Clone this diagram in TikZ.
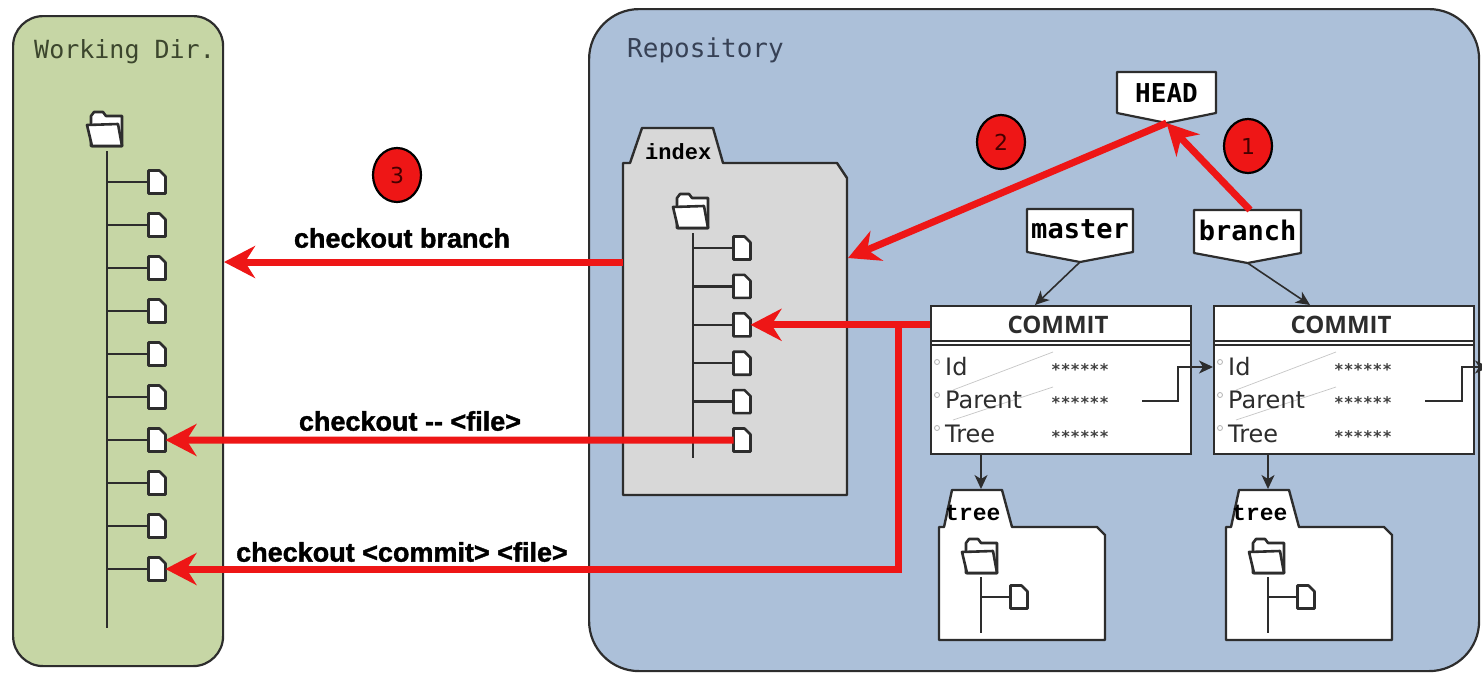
\documentclass[tikz,border=0pt]{standalone}
\usepackage{fontspec}
\setmainfont{DejaVu Sans}
\newfontfamily\monof{DejaVu Sans Mono}
\newfontfamily\courf{Liberation Mono}
\newfontfamily\labf{Liberation Sans}[BoldFeatures={FakeBold=1.4}]
\newfontfamily\commitf{Open Sans}
\usetikzlibrary{arrows.meta,shapes.geometric,calc}
\definecolor{wdgreen}{RGB}{198,214,165}
\definecolor{repoblue}{RGB}{172,192,217}
\definecolor{idxgray}{RGB}{216,216,216}
\definecolor{redc}{RGB}{238,22,22}
\definecolor{linec}{RGB}{45,45,45}
\definecolor{wdtext}{RGB}{60,70,45}
\definecolor{repotext}{RGB}{55,65,85}
\definecolor{numtext}{RGB}{70,0,0}
\tikzset{
  iconline/.style={draw=linec, line width=2.6pt, fill=white, line join=round},
  treeline/.style={draw=linec, line width=2.4pt},
  filenode/.style={minimum width=17pt, minimum height=23pt, inner sep=0pt, outer sep=0pt},
  foldnode/.style={minimum width=36pt, minimum height=34pt, inner sep=0pt, outer sep=0pt},
  redarr/.style={draw=redc, line width=7pt, -{Stealth[length=31pt,width=32pt,inset=10pt]}},
  thinarr/.style={draw=linec, line width=1.6pt, -{Stealth[length=14pt,width=13pt,inset=4pt]}},
  numc/.style={ellipse, draw=black, line width=2.2pt, fill=redc, minimum width=48pt, minimum height=54pt, inner sep=0pt, font=\fontsize{22}{22}\selectfont, text=numtext},
  lab/.style={font=\labf\bfseries\fontsize{27}{27}\selectfont, text=black, inner sep=0pt},
  flagtxt/.style={font=\monof\bfseries\fontsize{26}{26}\selectfont, text=black, inner sep=0pt},
  rowtxt/.style={font=\fontsize{24}{24}\selectfont, text=linec, inner sep=0pt, anchor=west},
  valtxt/.style={font=\monof\bfseries\fontsize{16}{16}\selectfont, text=linec!90, inner sep=0pt, anchor=west},
}
\newcommand\drawfile[1]{\draw[iconline] (#1.north west) -- ([xshift=-6pt]#1.north east) -- ([yshift=-6pt]#1.north east) -- (#1.south east) -- (#1.south west) -- cycle;}
\newcommand\drawfolder[1]{\begin{scope}[shift={(#1.north west)}]
  \draw[iconline] (4,34) -- (4,4) -- (7,0) -- (16,0) -- (19,4) -- (35,4) -- (35,34) -- cycle;
  \draw[iconline] (0,13) -- (31,12) -- (35,34) -- (5,34) -- cycle;
\end{scope}}
\newcommand\flagshape[4]{\draw[draw=linec, line width=2.2pt, fill=white, line join=round] (#1,#2) -- (#1+#3,#2) -- (#1+#3,#2+#4) -- (#1+#3/2,#2+#4+10) -- (#1,#2+#4) -- cycle;}
\begin{document}
\begin{tikzpicture}[x=1pt,y=-1pt]
\useasboundingbox (0,0) rectangle (1482,675);
\fill[white] (0,0) rectangle (1482,675);

% ---------- Working directory ----------
\node[draw=linec, line width=2.2pt, fill=wdgreen, rounded corners=30pt, minimum width=210pt, minimum height=650pt, anchor=north west, inner sep=0pt] (wd) at (12,15) {};
\node[anchor=west, font=\monof\fontsize{25}{25}\selectfont, text=wdtext, inner sep=0pt] (wdlabel) at (34,52) {Working Dir.};
\node[foldnode] (wfold) at (105,129) {};
\drawfolder{wfold}
\draw[treeline] (107,151) -- (107,628);
\foreach \i in {1,...,10}{
  \node[filenode] (w\i) at (157,{182+43*(\i-1)}) {};
  \draw[treeline] (107,{182+43*(\i-1)}) -- (w\i.west);
  \drawfile{w\i}
}

% ---------- Repository ----------
\node[draw=linec, line width=2.2pt, fill=repoblue, rounded corners=50pt, minimum width=890pt, minimum height=662pt, anchor=north west, inner sep=0pt] (repo) at (588,8) {};
\node[anchor=west, font=\monof\fontsize{26}{26}\selectfont, text=repotext, inner sep=0pt] (repolabel) at (627,50) {Repository};

% index folder
\draw[draw=linec, line width=2.4pt, fill=idxgray, line join=round] (623,495) -- (623,163) -- (630,163) -- (642,128) -- (713,128) -- (723,163) -- (837,163) -- (847,178) -- (847,495) -- cycle;
\node[anchor=west, font=\courf\bfseries\fontsize{22}{22}\selectfont, inner sep=0pt] (idxlabel) at (645,152) {index};
\node[foldnode] (ifold) at (691,211) {};
\drawfolder{ifold}
\draw[treeline] (693,233) -- (693,458);
\foreach \i in {1,...,6}{
  \node[filenode] (i\i) at (742,{248+38.4*(\i-1)}) {};
  \draw[treeline] (693,{248+38.4*(\i-1)}) -- (i\i.west);
  \drawfile{i\i}
}

% commits
\foreach \c/\x in {c1/930, c2/1213}{
  \node[draw=linec, line width=2.4pt, fill=white, minimum width=260pt, minimum height=148pt, anchor=north west, inner sep=0pt] (\c) at (\x,305) {};
  \draw[linec, line width=1.6pt] (\x,341) -- ++(260,0) (\x,345) -- ++(260,0);
  \node[font=\commitf\bfseries\fontsize{24}{24}\selectfont, text=linec, inner sep=0pt] (\c-hd) at (\x+128,325) {COMMIT};
  \draw[gray!45, line width=0.7pt] (\x+23,390) -- (\x+123,352) (\x+23,420) -- (\x+123,387);
  \draw[gray!60, line width=0.8pt] (\x+7,362) circle (2.5) (\x+7,395) circle (2.5) (\x+7,428) circle (2.5);
  \node[rowtxt] (\c-id) at (\x+15,367) {Id};
  \node[rowtxt] (\c-par) at (\x+15,400) {Parent};
  \node[rowtxt] (\c-tr) at (\x+15,434) {Tree};
  \node[valtxt] (\c-v1) at (\x+121,370) {******};
  \node[valtxt] (\c-v2) at (\x+121,403) {******};
  \node[valtxt] (\c-v3) at (\x+121,437) {******};
}

% trees
\foreach \t/\dx in {1/0, 2/287}{
  \begin{scope}[xshift=\dx]
    \draw[draw=linec, line width=2.4pt, fill=white, line join=round] (939,640) -- (939,527) -- (944,527) -- (952,490) -- (1002,490) -- (1012,527) -- (1097,527) -- (1105,535) -- (1105,640) -- cycle;
    \node[anchor=west, font=\courf\bfseries\fontsize{23}{23}\selectfont, inner sep=0pt] (tl\t) at (945,513) {tree};
    \node[foldnode] (tf\t) at (980,556) {};
    \drawfolder{tf\t}
    \draw[treeline] (981,577) -- (981,633);
    \node[filenode] (tfile\t) at (1019,597) {};
    \draw[treeline] (981,597) -- (tfile\t.west);
    \drawfile{tfile\t}
    \coordinate (ttop\t) at (981,489);
  \end{scope}
}
\draw[thinarr] (c1.south -| ttop1) -- (ttop1);
\draw[thinarr] (c2.south -| ttop2) -- (ttop2);

% parent links
\coordinate (p1) at (1142,401);
\coordinate (p2) at (1425,401);
\coordinate (pout) at (1489,367);
\draw[thinarr] (p1) -- (1178,401) |- (c2.west |- c1-id);
\draw[thinarr] (p2) -- (1462,401) |- (pout);

% flags
\flagshape{1117}{72}{99}{41}
\node[flagtxt] (head) at (1166.5,93) {HEAD};
\coordinate (headtip) at (1166.5,123);
\flagshape{1027}{209}{106}{43}
\node[flagtxt, font=\monof\bfseries\fontsize{27}{27}\selectfont] (master) at (1080,229) {master};
\coordinate (mastertip) at (1080,262);
\flagshape{1194}{210}{107}{43}
\node[flagtxt, font=\monof\bfseries\fontsize{27}{27}\selectfont] (branch) at (1247.5,230) {branch};
\coordinate (branchtip) at (1247.5,263);
\coordinate (branchtop) at (1250,210);
\draw[thinarr] (mastertip) -- ($(c1.north west)+(105,0)$);
\draw[thinarr] (branchtip) -- ($(c2.north west)+(97,0)$);

% red arrows
\coordinate (idxR) at (848,258);
\coordinate (cbS) at (623,262);
\coordinate (cbE) at (224,262);
\coordinate (jn) at (898,0);
\draw[redarr] (branchtop) -- (headtip);
\draw[redarr] (headtip) -- (idxR);
\draw[redarr] (cbS) -- (cbE);
\draw[redarr] (i6.west) -- (w7.east);
\draw[redarr] (c1.west |- i3) -- (i3.east);
\draw[redarr] (jn |- i3) |- (w10.east);

% numbers
\node[numc] (n3) at (397,175) {3};
\node[numc] (n2) at (1001,142) {2};
\node[numc] (n1) at (1248,146) {1};

% labels
\node[lab] (l1) at (402,238) {checkout branch};
\node[lab] (l2) at (410,421) {checkout -{}- <file>};
\node[lab] (l3) at (402,552) {checkout <commit> <file>};
\end{tikzpicture}
\end{document}
